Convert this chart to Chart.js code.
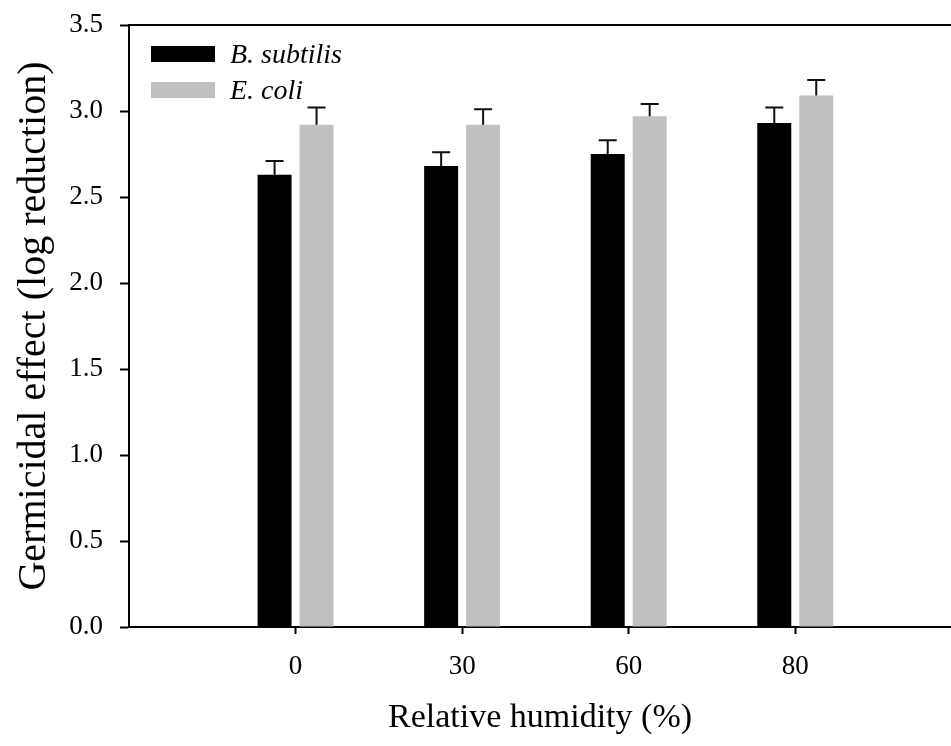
<!DOCTYPE html>
<html><head><meta charset="utf-8">
<script src="https://cdn.jsdelivr.net/npm/chart.js@4.4.1/dist/chart.umd.min.js"></script>
<style>html,body{margin:0;padding:0;background:#fff;overflow:hidden}#wrap{width:951px;height:746px;position:relative}</style>
</head><body><div id="wrap"><canvas id="c" width="951" height="746"></canvas></div>
<script>
const categories = ['0', '30', '60', '80'];
const seriesNames = ['B. subtilis', 'E. coli'];
const bSubtilis = [2.63, 2.68, 2.75, 2.93];
const bSubtilisErr = [0.08, 0.08, 0.08, 0.09];
const eColi = [2.92, 2.92, 2.97, 3.09];
const eColiErr = [0.10, 0.09, 0.07, 0.09];
const yTickValues = [0, 0.5, 1.0, 1.5, 2.0, 2.5, 3.0, 3.5];
const xTitle = 'Relative humidity (%)';
const yTitle = 'Germicidal effect (log reduction)';

const FONT = '"Liberation Serif", "Times New Roman", serif';

const toPts = arr => arr.map((v, i) => ({x: i, y: v}));

const errorBars = {
  id: 'errorBars',
  afterDatasetsDraw(chart) {
    const ctx = chart.ctx, ys = chart.scales.y;
    chart.data.datasets.forEach((ds, di) => {
      const meta = chart.getDatasetMeta(di);
      meta.data.forEach((bar, i) => {
        const v = ds.data[i].y, e = ds.errors[i];
        const yTop = ys.getPixelForValue(v + e);
        ctx.save();
        ctx.strokeStyle = '#111';
        ctx.lineWidth = 2;
        ctx.beginPath();
        ctx.moveTo(bar.x, bar.y);
        ctx.lineTo(bar.x, yTop);
        ctx.moveTo(bar.x - 9, yTop);
        ctx.lineTo(bar.x + 9, yTop);
        ctx.stroke();
        ctx.restore();
      });
    });
  }
};

const frameAndLegend = {
  id: 'frameAndLegend',
  afterDraw(chart) {
    const ctx = chart.ctx, a = chart.chartArea;
    ctx.save();
    ctx.strokeStyle = '#000';
    ctx.lineWidth = 2;
    ctx.beginPath();
    ctx.moveTo(a.left, a.top);
    ctx.lineTo(a.right, a.top);
    ctx.stroke();
    // legend
    const x0 = 151, w = 64, h = 16;
    chart.data.datasets.forEach((ds, i) => {
      const top = 46 + i * 36;
      ctx.fillStyle = ds.backgroundColor;
      ctx.fillRect(x0, top, w, h);
      ctx.fillStyle = '#000';
      ctx.font = 'italic 28px ' + FONT;
      ctx.textBaseline = 'alphabetic';
      ctx.textAlign = 'left';
      ctx.fillText(ds.label, 230, top + 17);
    });
    ctx.restore();
  }
};

new Chart(document.getElementById('c'), {
  type: 'bar',
  data: {
    datasets: [
      {label: seriesNames[0], data: toPts(bSubtilis), errors: bSubtilisErr, backgroundColor: '#000000'},
      {label: seriesNames[1], data: toPts(eColi), errors: eColiErr, backgroundColor: '#c0c0c0'}
    ]
  },
  options: {
    responsive: false,
    animation: false,
    devicePixelRatio: 1,
    categoryPercentage: 0.504,
    barPercentage: 0.81,
    layout: {padding: {top: 25, right: 0, left: 0, bottom: 0}},
    plugins: {legend: {display: false}, tooltip: {enabled: false}},
    scales: {
      x: {
        type: 'linear',
        offset: false,
        min: -1,
        max: 3.935,
        afterBuildTicks: s => { s.ticks = categories.map((c, i) => ({value: i})); },
        afterFit: s => { s.height = 119; s.paddingLeft = 0; s.paddingRight = 0; },
        border: {display: true, color: '#000', width: 2},
        grid: {offset: false, drawOnChartArea: false, drawTicks: true, tickLength: 7, tickColor: '#000', tickWidth: 2},
        ticks: {
          autoSkip: false, maxRotation: 0, padding: 17,
          color: '#000', font: {family: FONT, size: 27},
          callback: v => categories[v]
        },
        title: {display: true, text: xTitle, color: '#000', font: {family: FONT, size: 34}, padding: {top: 0, bottom: 8}}
      },
      y: {
        min: 0, max: 3.5,
        afterBuildTicks: s => { s.ticks = yTickValues.map(v => ({value: v})); },
        afterFit: s => { s.width = 129; s.paddingTop = 0; s.paddingBottom = 0; },
        border: {display: true, color: '#000', width: 2},
        grid: {drawOnChartArea: false, drawTicks: true, tickLength: 9, tickColor: '#000', tickWidth: 2},
        ticks: {
          padding: 17, color: '#000', font: {family: FONT, size: 27},
          callback: v => v.toFixed(1)
        },
        title: {display: true, text: yTitle, color: '#000', font: {family: FONT, size: 40}, padding: {top: 10, bottom: 0}}
      }
    }
  },
  plugins: [errorBars, frameAndLegend]
});
</script>
</body></html>
